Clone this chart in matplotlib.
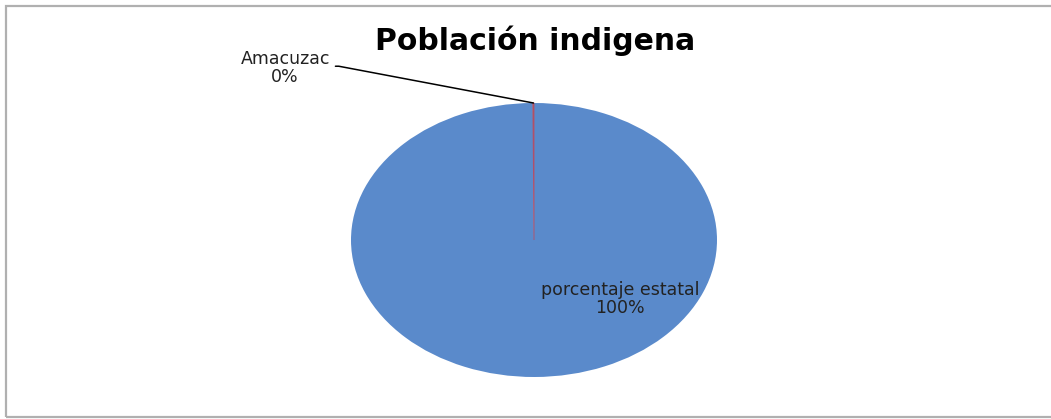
import matplotlib
matplotlib.use("Agg")
import numpy as np
import matplotlib.pyplot as plt
from matplotlib.patches import Rectangle

# data
labels = ["porcentaje estatal", "Amacuzac"]
values = [99.9, 0.1]
colors = ["#5A8ACB", "#C0504D"]
title = "Población indigena"

plt.rcParams['font.family'] = ['DejaVu Sans']

fig = plt.figure(figsize=(10.51, 4.19), dpi=100)
W, H = 1051, 419

# outer chart border
fig.patches.append(Rectangle((6 / W, 2 / H), 1.2, 411 / H, transform=fig.transFigure,
                             fill=False, edgecolor="#b0b0b0", linewidth=1.6))

ax = fig.add_axes([351 / W, 42 / H, 366 / W, 274 / H])
wedges, _ = ax.pie(values, colors=colors, startangle=90, counterclock=False,
                   radius=1, wedgeprops=dict(linewidth=0))
# tiny slice shows as a thin red line
wedges[1].set_edgecolor("#B0506A")
wedges[1].set_linewidth(0.6)
ax.set_aspect('auto')
ax.set_xlim(-1, 1)
ax.set_ylim(-1, 1)
ax.axis('off')

total = sum(values)
pct = [f"{round(v / total * 100):.0f}%" for v in values]

# big slice label inside the pie
ax.text(0.47, -0.43, f"{labels[0]}\n{pct[0]}", ha='center', va='center',
        fontsize=12.5, color="#222222", linespacing=1.05)

# small slice label with leader line
w = wedges[1]
mid = np.deg2rad((w.theta1 + w.theta2) / 2)
ax.annotate(f"{labels[1]}\n{pct[1]}", xy=(np.cos(mid), np.sin(mid)),
            xytext=(-1.36, 1.255), ha='center', va='center',
            fontsize=12.5, color="#222222", linespacing=1.05,
            annotation_clip=False,
            arrowprops=dict(arrowstyle='-', color='black', lw=1.1,
                            relpos=(1.0, 0.55), shrinkA=2, shrinkB=0,
                            connectionstyle="angle,angleA=0,angleB=-10.7,rad=0"))

fig.text(535 / W, 1 - 41 / H, title, ha='center', va='center',
         fontsize=21.5, fontweight='bold', color='black')

fig.savefig("out.png", dpi=100)
